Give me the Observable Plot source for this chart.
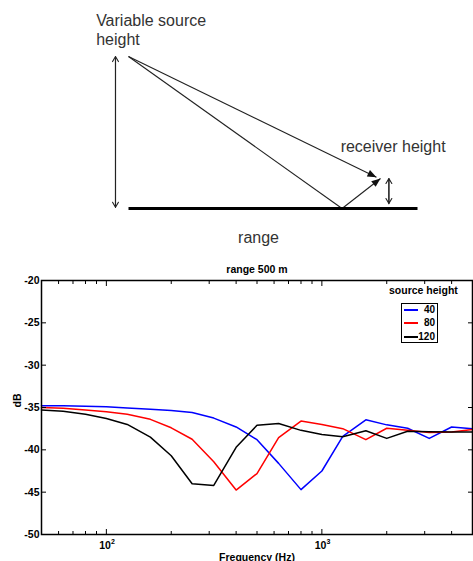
<!DOCTYPE html>
<html>
<head>
<meta charset="utf-8">
<script src="https://cdn.jsdelivr.net/npm/d3@7"></script>
<script src="https://cdn.jsdelivr.net/npm/@observablehq/plot@0.6"></script>
<style>
  body { margin: 0; background: #fff; }
  #wrap { position: relative; width: 473px; height: 561px; overflow: hidden; font-family: Arial, "Liberation Sans", Helvetica, sans-serif; }
  #wrap svg { display: block; }
  #legend-title { position: absolute; left: 389px; top: 284px; font-size: 10.5px; line-height: 12px; font-weight: bold; white-space: nowrap; color: #000; }
  #legend-box { position: absolute; left: 401px; top: 303px; width: 35px; height: 38px; border: 1px solid #000; background: #fff; }
  .lg-row { position: absolute; left: 0; width: 35px; height: 12px; }
  .lg-line { position: absolute; left: 2px; top: 5px; width: 14px; height: 2px; }
  .lg-label { position: absolute; right: 2px; top: 0; font-size: 10px; line-height: 12px; font-weight: bold; color: #000; }
</style>
</head>
<body>
<div id="wrap"></div>
<script>
// ---------- chart data ----------
const freqs = [50, 63, 80, 100, 125, 160, 200, 250, 315, 400, 500, 630, 800, 1000, 1250, 1600, 2000, 2500, 3150, 4000, 5000];
const h40  = [-34.8, -34.8, -34.85, -34.9, -35.05, -35.2, -35.35, -35.6, -36.25, -37.3, -38.8, -41.6, -44.7, -42.5, -38.4, -36.45, -37.05, -37.45, -38.65, -37.3, -37.5];
const h80  = [-35.0, -35.1, -35.3, -35.5, -35.8, -36.4, -37.4, -38.75, -41.4, -44.75, -42.8, -38.55, -36.6, -37.0, -37.5, -38.8, -37.45, -37.7, -37.95, -37.9, -37.6];
const h120 = [-35.3, -35.45, -35.8, -36.3, -37.0, -38.5, -40.7, -44.0, -44.2, -39.7, -37.1, -36.9, -37.7, -38.2, -38.45, -37.75, -38.65, -37.8, -37.85, -37.9, -37.9];
const seriesNames = ["40", "80", "120"];
const seriesColors = ["#0000ff", "#ff0000", "#000000"];
const yTicks = [-50, -45, -40, -35, -30, -25, -20];
const xMajorTicks = [100, 1000];
const xMajorBase = ["10", "10"];
const xMajorExp = ["2", "3"];
const xMinorTicks = [60, 70, 80, 90, 200, 300, 400, 500, 600, 700, 800, 900, 2000, 3000, 4000];
const chartTitle = "range 500 m";
const xLabel = "Frequency (Hz)";
const yLabel = "dB";
const legendTitle = "source height";

// ---------- diagram data (schematic units) ----------
const groundX = [0, 100];
const sourcePt = {x: 0, y: 52.6};
const reflectPt = {x: 73.9, y: 0};
const directTip = {x: 85.8, y: 10.8};
const reflectTip = {x: 87.2, y: 10.4};
const sourceBar = {x: -4.5, y1: 0.4, y2: 52.6};
const receiverBar = {x: 90.1, y1: 1.7, y2: 10.4};
const diagramText = ["Variable source", "height", "receiver height", "range"];
const diagramTextX = [-11.2, -11.2, 73.4, 45];
const diagramTextY = [63.0, 56.6, 19.7, -12.0];
const diagramTextAnchor = ["start", "start", "start", "middle"];

const wrap = document.getElementById("wrap");
const FONT = "Arial, 'Liberation Sans', Helvetica, sans-serif";

// ---------- diagram ----------
const rays = [
  {x1: sourcePt.x, y1: sourcePt.y, x2: directTip.x, y2: directTip.y},
  {x1: sourcePt.x, y1: sourcePt.y, x2: reflectPt.x, y2: reflectPt.y},
  {x1: reflectPt.x, y1: reflectPt.y, x2: reflectTip.x, y2: reflectTip.y}
];
const heads = [
  {x: directTip.x, y: directTip.y, a: Math.atan2(directTip.x - sourcePt.x, directTip.y - sourcePt.y) * 180 / Math.PI},
  {x: reflectTip.x, y: reflectTip.y, a: Math.atan2(reflectTip.x - reflectPt.x, reflectTip.y - reflectPt.y) * 180 / Math.PI}
];
const bars = [sourceBar, receiverBar];
const dblArrows = bars.flatMap(b => [{x: b.x, y1: b.y1, y2: b.y2}, {x: b.x, y1: b.y2, y2: b.y1}]);
const headShape = {
  draw(context, l) {
    context.moveTo(0, -l);
    context.lineTo(3.6, 0);
    context.lineTo(-3.6, 0);
    context.closePath();
  }
};
const dtext = diagramText.map((t, i) => ({t, x: diagramTextX[i], y: diagramTextY[i], a: diagramTextAnchor[i]}));

const diagram = Plot.plot({
  width: 473, height: 258,
  marginLeft: 128, marginRight: 56, marginTop: 56, marginBottom: 50,
  x: {domain: [0, 100], axis: null},
  y: {domain: [0, 52.6], axis: null},
  style: {fontFamily: FONT, background: "transparent", overflow: "visible"},
  marks: [
    Plot.link(rays, {x1: "x1", y1: "y1", x2: "x2", y2: "y2", stroke: "#222", strokeWidth: 1.1}),
    Plot.vector(heads, {x: "x", y: "y", rotate: "a", length: 9, anchor: "end", shape: headShape, fill: "#111", stroke: "none"}),
    Plot.arrow(dblArrows, {x1: "x", y1: "y1", x2: "x", y2: "y2", stroke: "#222", strokeWidth: 1.1, headLength: 8, headAngle: 60}),
    Plot.link([groundX], {x1: d => d[0], x2: d => d[1], y1: 0, y2: 0, stroke: "#000", strokeWidth: 3}),
    Plot.text(dtext.filter(d => d.a === "start"), {x: "x", y: "y", text: "t", textAnchor: "start", lineAnchor: "bottom", fontSize: 16, fill: "#333"}),
    Plot.text(dtext.filter(d => d.a === "middle"), {x: "x", y: "y", text: "t", textAnchor: "middle", lineAnchor: "bottom", fontSize: 16, fill: "#333"})
  ]
});
wrap.appendChild(diagram);

// ---------- chart ----------
const seriesValues = [h40, h80, h120];
const rows = seriesNames.flatMap((s, k) => freqs.map((f, i) => ({f, db: seriesValues[k][i], series: s})));

const chart = Plot.plot({
  width: 473, height: 303,
  marginLeft: 41, marginRight: 1, marginTop: 22, marginBottom: 27,
  x: {type: "log", domain: [50, 5000], axis: null},
  y: {domain: [-50, -20], axis: null},
  color: {domain: seriesNames, range: seriesColors},
  style: {fontFamily: FONT, fontWeight: "bold", fontSize: "10.5px", color: "#000", background: "transparent", overflow: "visible"},
  marks: [
    Plot.line(rows, {x: "f", y: "db", z: "series", stroke: "series", strokeWidth: 1.5}),
    // y tick marks (inward, left & right)
    Plot.axisY(yTicks, {anchor: "left", tickSize: 5, dx: 5, tickFormat: () => "", label: null, strokeWidth: 1}),
    Plot.axisY(yTicks, {anchor: "right", tickSize: 5, dx: -5, tickFormat: () => "", label: null, strokeWidth: 1}),
    // y tick labels
    Plot.axisY(yTicks, {anchor: "left", tickSize: 0, tickPadding: 2, tickFormat: d => String(d), label: null, fontWeight: "bold", fontSize: 10.5}),
    // x tick marks (inward, bottom & top)
    Plot.axisX(xMajorTicks, {anchor: "bottom", tickSize: 5, dy: -5, tickFormat: () => "", label: null}),
    Plot.axisX(xMinorTicks, {anchor: "bottom", tickSize: 3, dy: -3, tickFormat: () => "", label: null}),
    Plot.axisX(xMajorTicks, {anchor: "top", tickSize: 5, dy: 5, tickFormat: () => "", label: null}),
    Plot.axisX(xMinorTicks, {anchor: "top", tickSize: 3, dy: 3, tickFormat: () => "", label: null}),
    // x tick labels 10^n
    Plot.text(xMajorTicks, {x: d => d, text: (d, i) => xMajorBase[i], frameAnchor: "bottom", dy: 7.3, dx: -1.3, lineAnchor: "top", textAnchor: "middle", fontWeight: "bold", fontSize: 10.5}),
    Plot.text(xMajorTicks, {x: d => d, text: (d, i) => xMajorExp[i], frameAnchor: "bottom", dy: 9.5, dx: 4.7, lineAnchor: "bottom", textAnchor: "start", fontWeight: "bold", fontSize: 7}),
    // frame
    Plot.frame({stroke: "#000", strokeWidth: 1.5}),
    // title and axis labels
    Plot.text([chartTitle], {frameAnchor: "top", dy: -8, lineAnchor: "bottom", fontWeight: "bold", fontSize: 10.5}),
    Plot.text([xLabel], {frameAnchor: "bottom", dy: 26, lineAnchor: "bottom", fontWeight: "bold", fontSize: 10.5}),
    Plot.text([yLabel], {frameAnchor: "left", dx: -21, rotate: -90, lineAnchor: "bottom", fontWeight: "bold", fontSize: 10.5})
  ]
});
wrap.appendChild(chart);

// ---------- legend ----------
const lt = document.createElement("div");
lt.id = "legend-title";
lt.textContent = legendTitle;
wrap.appendChild(lt);
const box = document.createElement("div");
box.id = "legend-box";
const rowTops = [0, 13.3, 27.3];
seriesNames.forEach((s, i) => {
  const r = document.createElement("div");
  r.className = "lg-row";
  r.style.top = rowTops[i] + "px";
  const ln = document.createElement("div");
  ln.className = "lg-line";
  ln.style.background = seriesColors[i];
  const lb = document.createElement("div");
  lb.className = "lg-label";
  lb.textContent = s;
  r.appendChild(ln); r.appendChild(lb);
  box.appendChild(r);
});
wrap.appendChild(box);
</script>
</body>
</html>
